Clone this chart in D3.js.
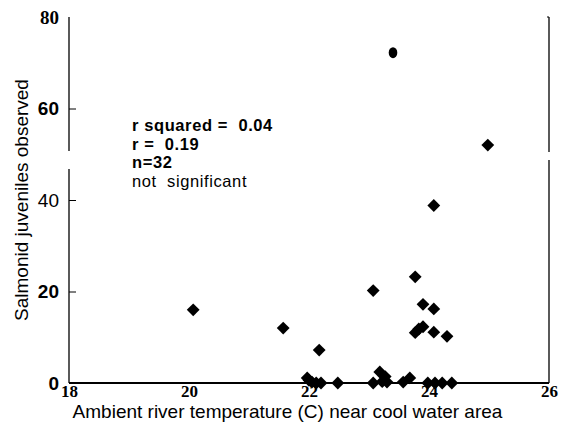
<!DOCTYPE html>
<html>
<head>
<meta charset="utf-8">
<script src="https://cdn.jsdelivr.net/npm/d3@7"></script>
<style>
html,body{margin:0;padding:0;background:#fff;}
svg{display:block;}
</style>
</head>
<body>
<svg id="chart" width="561" height="436"></svg>
<script>
// ---- data ----
const temperature = [20.07, 21.57, 22.17, 21.97, 22.05, 22.12, 22.2, 22.48, 23.07, 23.07,
  23.18, 23.27, 23.22, 23.3, 23.57, 23.68, 23.77, 23.77, 23.83, 23.9,
  23.9, 24.08, 24.08, 24.3, 24.08, 23.98, 24.1, 24.22, 24.38, 24.98, 22.0];
const juveniles = [16, 12, 7.2, 1.1, 0.2, 0, 0, 0, 20.2, 0,
  2.4, 1.4, 0.3, 0.2, 0.2, 1.1, 23.2, 11.0, 11.8, 12.3,
  17.2, 16.2, 11.1, 10.2, 38.8, 0, 0, 0, 0, 52, 0.6];
const outlierTemp = [23.4];
const outlierCount = [72.2];
const xTicks = [18, 20, 22, 24, 26];
const yTicks = [0, 20, 40, 60, 80];
const statLines = ["r squared =  0.04", "r =  0.19", "n=32", "not  significant"];
const xTitle = "Ambient river temperature (C) near cool water area";
const yTitle = "Salmonid juveniles observed";

// ---- layout ----
const SANS = "Liberation Sans, Arial, sans-serif";
const SERIF = "Liberation Serif, Times New Roman, serif";
const svg = d3.select("#chart");
const L = 69, R = 549, T = 17, B = 383;
const x = d3.scaleLinear().domain([18, 26]).range([L, R]);
const y = d3.scaleLinear().domain([0, 80]).range([B, T]);

// frame lines (scan-like breaks)
const frame = svg.append("g").attr("stroke", "#000").attr("fill", "none");
frame.append("line").attr("x1", L).attr("x2", L).attr("y1", T).attr("y2", 151).attr("stroke-width", 1.3);
frame.append("line").attr("x1", L).attr("x2", L).attr("y1", 169).attr("y2", B).attr("stroke-width", 1.3);
frame.append("line").attr("x1", R).attr("x2", R).attr("y1", T).attr("y2", 152).attr("stroke-width", 1.3);
frame.append("line").attr("x1", R).attr("x2", R).attr("y1", 160).attr("y2", B).attr("stroke-width", 1.3);
frame.append("line").attr("x1", R - 2).attr("x2", R).attr("y1", T).attr("y2", T).attr("stroke-width", 1);
frame.append("line").attr("x1", L).attr("x2", R).attr("y1", B).attr("y2", B).attr("stroke-width", 1.8);

// y axis
const yAxis = svg.append("g").attr("transform", `translate(${L},0)`)
  .call(d3.axisLeft(y).tickValues(yTicks).tickSizeInner(-7).tickSizeOuter(0).tickPadding(10).tickFormat(d3.format("d")));
yAxis.attr("font-family", null).attr("font-size", null);
yAxis.select(".domain").remove();
yAxis.selectAll(".tick line").attr("stroke", "#000").attr("stroke-width", 1)
  .filter(d => d === 0 || d === 80).remove();
yAxis.selectAll(".tick text")
  .attr("fill", "#000")
  .attr("font-family", d => d === 80 ? SERIF : SANS)
  .attr("font-size", 19)
  .attr("font-weight", d => d === 40 ? "normal" : "bold");

// x axis
const xAxis = svg.append("g").attr("transform", `translate(0,${B})`)
  .call(d3.axisBottom(x).tickValues(xTicks).tickSize(0).tickPadding(0).tickFormat(d3.format("d")));
xAxis.attr("font-family", null).attr("font-size", null);
xAxis.select(".domain").remove();
xAxis.selectAll(".tick text")
  .attr("fill", "#000")
  .attr("y", 14).attr("dy", null)
  .attr("font-family", SERIF)
  .attr("font-size", 17)
  .attr("font-weight", "bold");

// titles
svg.append("text")
  .attr("x", (73 + 502) / 2).attr("y", 418)
  .attr("text-anchor", "middle")
  .attr("font-family", SANS)
  .attr("font-size", 19)
  .text(xTitle);
svg.append("text")
  .attr("transform", "translate(28,200) rotate(-90)")
  .attr("text-anchor", "middle")
  .attr("font-family", SANS)
  .attr("font-size", 19)
  .text(yTitle);

// stats annotation
svg.append("g").selectAll("text").data(statLines).join("text")
  .attr("x", 132).attr("y", (d, i) => 131 + i * 18.5)
  .attr("font-family", SANS)
  .attr("font-size", 16.5)
  .attr("letter-spacing", 0.6)
  .attr("font-weight", (d, i) => i < 3 ? "bold" : "normal")
  .style("white-space", "pre")
  .attr("xml:space", "preserve")
  .text(d => d);

// points
const pts = temperature.map((t, i) => ({t, c: juveniles[i]}));
const sq = d3.symbol().type(d3.symbolSquare).size(82);
svg.append("g").selectAll("path").data(pts).join("path")
  .attr("d", sq)
  .attr("transform", d => `translate(${x(d.t)},${y(d.c)}) rotate(45)`)
  .attr("fill", "#000");

svg.append("g").selectAll("ellipse").data(outlierTemp.map((t, i) => ({t, c: outlierCount[i]}))).join("ellipse")
  .attr("cx", d => x(d.t)).attr("cy", d => y(d.c))
  .attr("rx", 4.3).attr("ry", 5.5).attr("fill", "#000");
</script>
</body>
</html>
